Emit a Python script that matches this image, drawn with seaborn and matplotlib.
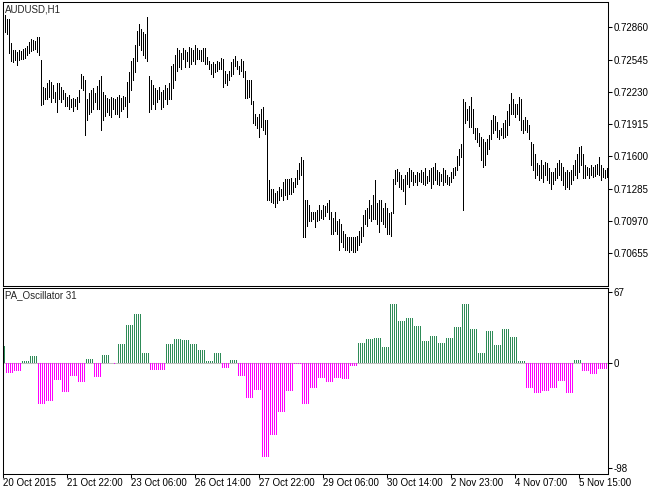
import numpy as np
import pandas as pd
import seaborn as sns
import matplotlib
matplotlib.use('Agg')
import matplotlib.pyplot as plt

symbol_label = 'AUDUSD,H1'
osc_label = 'PA_Oscillator 31'

# H1 bars, high / low
bar_high = [
    0.7298, 0.7294, 0.7294, 0.7271, 0.7264, 0.7264, 0.7262, 0.7264, 0.7263, 0.7265,
    0.7266, 0.7268, 0.7272, 0.7275, 0.7274, 0.7273, 0.7276, 0.7276, 0.7254, 0.7228,
    0.7227, 0.7232, 0.7235, 0.7233, 0.7230, 0.7223, 0.7232, 0.7232, 0.7228, 0.7225,
    0.7222, 0.7218, 0.7220, 0.7216, 0.7217, 0.7216, 0.7218, 0.7225, 0.7240, 0.7238,
    0.7235, 0.7216, 0.7222, 0.7225, 0.7227, 0.7222, 0.7229, 0.7235, 0.7238, 0.7223,
    0.7220, 0.7217, 0.7216, 0.7218, 0.7217, 0.7216, 0.7218, 0.7220, 0.7217, 0.7219,
    0.7218, 0.7233, 0.7242, 0.7253, 0.7256, 0.7269, 0.7282, 0.7289, 0.7284, 0.7281,
    0.7279, 0.7296, 0.7238, 0.7235, 0.7230, 0.7227, 0.7225, 0.7228, 0.7223, 0.7225,
    0.7230, 0.7227, 0.7232, 0.7248, 0.7250, 0.7259, 0.7266, 0.7264, 0.7261, 0.7266,
    0.7264, 0.7262, 0.7267, 0.7266, 0.7264, 0.7269, 0.7266, 0.7264, 0.7264, 0.7266,
    0.7266, 0.7257, 0.7253, 0.7250, 0.7252, 0.7250, 0.7253, 0.7252, 0.7256, 0.7255,
    0.7243, 0.7240, 0.7243, 0.7252, 0.7255, 0.7258, 0.7253, 0.7248, 0.7255, 0.7253,
    0.7243, 0.7235, 0.7235, 0.7235, 0.7214, 0.7201, 0.7198, 0.7201, 0.7206, 0.7208,
    0.7196, 0.7196, 0.7137, 0.7128, 0.7128, 0.7124, 0.7126, 0.7130, 0.7128, 0.7135,
    0.7138, 0.7138, 0.7138, 0.7139, 0.7135, 0.7139, 0.7147, 0.7154, 0.7159, 0.7157,
    0.7118, 0.7118, 0.7113, 0.7106, 0.7106, 0.7106, 0.7108, 0.7113, 0.7108, 0.7113,
    0.7112, 0.7115, 0.7118, 0.7106, 0.7100, 0.7106, 0.7097, 0.7099, 0.7094, 0.7087,
    0.7084, 0.7081, 0.7081, 0.7081, 0.7081, 0.7081, 0.7082, 0.7087, 0.7091, 0.7103,
    0.7108, 0.7110, 0.7118, 0.7113, 0.7122, 0.7137, 0.7115, 0.7118, 0.7118, 0.7110,
    0.7115, 0.7110, 0.7105, 0.7106, 0.7138, 0.7147, 0.7148, 0.7145, 0.7142, 0.7138,
    0.7142, 0.7145, 0.7149, 0.7147, 0.7145, 0.7142, 0.7145, 0.7144, 0.7147, 0.7145,
    0.7149, 0.7141, 0.7147, 0.7149, 0.7150, 0.7154, 0.7147, 0.7145, 0.7143, 0.7149,
    0.7147, 0.7142, 0.7140, 0.7145, 0.7149, 0.7150, 0.7160, 0.7167, 0.7172, 0.7216,
    0.7213, 0.7206, 0.7209, 0.7218, 0.7206, 0.7188, 0.7188, 0.7183, 0.7179, 0.7177,
    0.7174, 0.7177, 0.7181, 0.7196, 0.7200, 0.7199, 0.7194, 0.7186, 0.7188, 0.7193,
    0.7196, 0.7204, 0.7211, 0.7222, 0.7216, 0.7211, 0.7211, 0.7218, 0.7216, 0.7196,
    0.7198, 0.7196, 0.7191, 0.7174, 0.7172, 0.7162, 0.7154, 0.7152, 0.7157, 0.7152,
    0.7155, 0.7154, 0.7149, 0.7145, 0.7145, 0.7149, 0.7154, 0.7157, 0.7154, 0.7150,
    0.7145, 0.7147, 0.7145, 0.7147, 0.7152, 0.7157, 0.7162, 0.7169, 0.7170, 0.7162,
    0.7152, 0.7150, 0.7149, 0.7152, 0.7150, 0.7152, 0.7153, 0.7159, 0.7152, 0.7149,
    0.7147, 0.7149,
]
bar_low = [
    0.7281, 0.7279, 0.7261, 0.7253, 0.7252, 0.7254, 0.7249, 0.7254, 0.7255, 0.7255,
    0.7256, 0.7259, 0.7261, 0.7263, 0.7264, 0.7265, 0.7262, 0.7259, 0.7210, 0.7211,
    0.7216, 0.7216, 0.7218, 0.7213, 0.7217, 0.7213, 0.7203, 0.7216, 0.7213, 0.7216,
    0.7209, 0.7209, 0.7206, 0.7208, 0.7204, 0.7209, 0.7206, 0.7213, 0.7227, 0.7225,
    0.7181, 0.7196, 0.7201, 0.7203, 0.7206, 0.7213, 0.7206, 0.7206, 0.7186, 0.7196,
    0.7199, 0.7203, 0.7200, 0.7198, 0.7206, 0.7201, 0.7201, 0.7198, 0.7204, 0.7206,
    0.7209, 0.7198, 0.7213, 0.7225, 0.7235, 0.7242, 0.7253, 0.7269, 0.7264, 0.7259,
    0.7256, 0.7253, 0.7203, 0.7206, 0.7211, 0.7206, 0.7213, 0.7216, 0.7206, 0.7208,
    0.7216, 0.7211, 0.7216, 0.7216, 0.7227, 0.7235, 0.7243, 0.7247, 0.7245, 0.7255,
    0.7247, 0.7253, 0.7247, 0.7250, 0.7253, 0.7250, 0.7255, 0.7255, 0.7253, 0.7253,
    0.7250, 0.7250, 0.7245, 0.7240, 0.7237, 0.7242, 0.7243, 0.7245, 0.7245, 0.7228,
    0.7232, 0.7230, 0.7235, 0.7238, 0.7240, 0.7248, 0.7245, 0.7240, 0.7243, 0.7237,
    0.7217, 0.7217, 0.7218, 0.7211, 0.7193, 0.7191, 0.7188, 0.7179, 0.7189, 0.7186,
    0.7182, 0.7118, 0.7118, 0.7116, 0.7115, 0.7111, 0.7115, 0.7118, 0.7121, 0.7118,
    0.7122, 0.7119, 0.7123, 0.7123, 0.7125, 0.7130, 0.7133, 0.7138, 0.7142, 0.7081,
    0.7081, 0.7092, 0.7097, 0.7097, 0.7099, 0.7091, 0.7097, 0.7098, 0.7100, 0.7099,
    0.7102, 0.7106, 0.7099, 0.7084, 0.7084, 0.7087, 0.7084, 0.7069, 0.7077, 0.7072,
    0.7069, 0.7069, 0.7067, 0.7069, 0.7067, 0.7067, 0.7069, 0.7074, 0.7077, 0.7082,
    0.7094, 0.7092, 0.7100, 0.7097, 0.7099, 0.7099, 0.7094, 0.7086, 0.7097, 0.7094,
    0.7091, 0.7084, 0.7084, 0.7082, 0.7105, 0.7133, 0.7136, 0.7130, 0.7128, 0.7126,
    0.7114, 0.7133, 0.7130, 0.7136, 0.7132, 0.7135, 0.7132, 0.7136, 0.7135, 0.7133,
    0.7132, 0.7134, 0.7136, 0.7129, 0.7133, 0.7137, 0.7133, 0.7132, 0.7136, 0.7132,
    0.7135, 0.7133, 0.7132, 0.7135, 0.7139, 0.7142, 0.7147, 0.7152, 0.7159, 0.7108,
    0.7193, 0.7196, 0.7189, 0.7189, 0.7183, 0.7177, 0.7174, 0.7170, 0.7157, 0.7150,
    0.7152, 0.7162, 0.7167, 0.7177, 0.7183, 0.7186, 0.7179, 0.7177, 0.7181, 0.7178,
    0.7179, 0.7181, 0.7191, 0.7201, 0.7201, 0.7198, 0.7201, 0.7196, 0.7186, 0.7183,
    0.7186, 0.7184, 0.7177, 0.7152, 0.7147, 0.7139, 0.7142, 0.7137, 0.7139, 0.7135,
    0.7142, 0.7137, 0.7134, 0.7128, 0.7133, 0.7137, 0.7139, 0.7142, 0.7137, 0.7132,
    0.7128, 0.7130, 0.7128, 0.7133, 0.7137, 0.7142, 0.7139, 0.7145, 0.7152, 0.7139,
    0.7139, 0.7142, 0.7139, 0.7142, 0.7140, 0.7141, 0.7143, 0.7142, 0.7137, 0.7140,
    0.7139, 0.7140,
]

# oscillator: level and how many bars it holds
osc_levels = [
    16, -9, -7, 2, 6.5, -38, -35, -15.5, -27, -12, -18, 4.5, -13, 7.5,
    0, -1, 0,
    18, 36, 46, 9.5, -6.5, -6, 18, 23, 21.5, 18, 12.5, 2, 9.5, -4.5, 3.5,
    -12, -33, -25, -88, -67, -46, -26, -1, -38, -23, -14, -18,
    -14, -15, -2.5, 19, 22.5, 23.5, 15, 56, 40, 43, 35, 20.5, 26, 19, 23.5,
    34, 56, 32, 10, 30, 17, 32, 25, 2, -23.5, -28, -26, -23.5, -17, -28,
    3.5, -7.5, -10, -5.5, -5,
]
osc_runs = [1] + [4] * 13 + [2, 1, 1] + [4] * 27 + [4] * 34 + [1]

price_ticks = [0.72860, 0.72545, 0.72230, 0.71915, 0.71600, 0.71285, 0.70970, 0.70655]
osc_ticks = [67, 0, -98]
date_labels = ['20 Oct 2015', '21 Oct 22:00', '23 Oct 06:00', '26 Oct 14:00', '27 Oct 22:00',
               '29 Oct 06:00', '30 Oct 14:00', '2 Nov 23:00', '4 Nov 07:00', '5 Nov 15:00']
bars_per_label = 32

sns.set_style('white')
plt.rcParams['font.family'] = ['Liberation Sans', 'DejaVu Sans']

W, H = 660, 494
fig = plt.figure(figsize=(W / 100, H / 100), dpi=100)


def px_axes(left, top, right, bottom):
    return fig.add_axes([left / W, 1 - bottom / H, (right - left) / W, (bottom - top) / H])


ax = px_axes(3, 2, 608, 285.7)
ax2 = px_axes(3, 287.5, 608, 473.5)

n = len(bar_high)
idx = np.arange(n)

# price bars, one pixel wide
ax.vlines(idx, bar_low, bar_high, color='black', linewidth=0.6, antialiased=False)

# oscillator histogram
osc = np.repeat(osc_levels, osc_runs)
df = pd.DataFrame({'bar': idx, 'value': osc, 'sign': np.where(osc >= 0, 'up', 'down')})
ax2.axhline(0, color='#C0C0C0', linewidth=0.75, zorder=0)
sns.barplot(data=df, x='bar', y='value', hue='sign', native_scale=True,
            palette={'up': '#2E8B57', 'down': '#FF00FF'}, width=0.5, dodge=False,
            legend=False, errorbar=None, saturation=1, linewidth=0, antialiased=False, ax=ax2)

for a in (ax, ax2):
    a.set_xlim(-0.75, n - 0.25)
    a.set_xlabel('')
    a.set_ylabel('')
    for s in a.spines.values():
        s.set_color('black')
        s.set_linewidth(0.75)
    a.yaxis.tick_right()
    a.tick_params(axis='y', direction='out', length=3, width=0.75, pad=1,
                  labelsize=7, colors='black', right=True, left=False)

ax.set_ylim(0.70340, 0.73106)
ax.set_yticks(price_ticks)
ax.set_yticklabels(['%.5f' % p for p in price_ticks])
ax.set_xticks([])

ax2.set_ylim(-103.5, 71.2)
ax2.set_yticks(osc_ticks)
ax2.set_yticklabels([str(v) for v in osc_ticks])
tick_pos = np.arange(len(date_labels)) * bars_per_label - 0.75
ax2.set_xticks(tick_pos)
ax2.set_xticklabels(date_labels, ha='left')
ax2.tick_params(axis='x', direction='out', length=3, width=0.75, pad=0.5,
                labelsize=7, colors='black', bottom=True)

fig.text(5 / W, 1 - 4 / H, symbol_label, va='top', ha='left', fontsize=7)
fig.text(5 / W, 1 - 290 / H, osc_label, va='top', ha='left', fontsize=7)

fig.savefig('out.png', dpi=100)
